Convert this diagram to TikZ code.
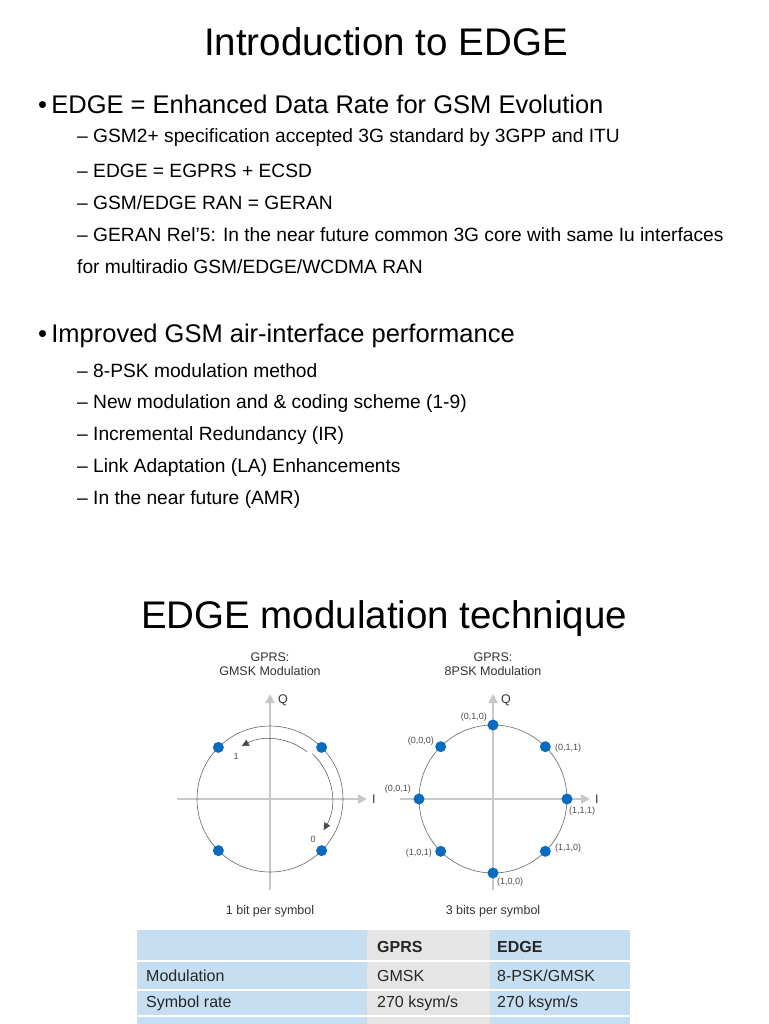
\documentclass[tikz,border=0pt]{standalone}
\usepackage{fontspec}
\setmainfont{Liberation Sans}
\usetikzlibrary{arrows.meta}
\definecolor{dotblue}{HTML}{0A6CC0}
\definecolor{tblue}{HTML}{C6DEF2}
\definecolor{tgrey}{HTML}{E5E5E5}
\definecolor{axgrey}{HTML}{C8C8C8}
\tikzset{
 title/.style={font=\fontsize{38.5}{44}\selectfont, anchor=center},
 lvlone/.style={font=\fontsize{25.5}{30}\selectfont, anchor=west, inner sep=0},
 lvltwo/.style={font=\fontsize{19.2}{22}\selectfont, anchor=west, inner sep=0},
 small/.style={font=\fontsize{12.5}{14}\selectfont, text=black!80, inner sep=0},
 tiny/.style={font=\fontsize{9}{10}\selectfont, text=black!70, inner sep=0},
 axis/.style={axgrey, line width=2.2pt, -{Triangle[length=9pt,width=9pt]}},
 circ/.style={black!60, line width=0.6pt},
 dot/.style={circle, fill=dotblue, minimum size=11pt, inner sep=0},
 cell/.style={font=\fontsize{16}{18}\selectfont, anchor=west, inner sep=0, text=black!85},
 arcarrow/.style={black!70, line width=0.5pt, -{Triangle[length=7pt,width=7pt]}},
}
\begin{document}
\begin{tikzpicture}[x=1pt,y=-1pt]
\useasboundingbox (0,0) rectangle (768,1024);
\fill[white] (0,0) rectangle (768,1024);
\node[title] (t1) at (386,42) {Introduction to EDGE};
\node[lvlone] (b1) at (38,104) {•\,EDGE = Enhanced Data Rate for GSM Evolution};
\node[lvltwo] (s1) at (77,138) {– GSM2+ specification accepted 3G standard by 3GPP and ITU};
\node[lvltwo] (s2) at (77,171) {– EDGE = EGPRS + ECSD};
\node[lvltwo] (s3) at (77,203) {– GSM/EDGE RAN = GERAN};
\node[lvltwo] (s4) at (77,235) {– GERAN Rel’5: In the near future common 3G core with same Iu interfaces};
\node[lvltwo] (s5) at (77,267) {for multiradio GSM/EDGE/WCDMA RAN};
\node[lvlone] (b2) at (38,336) {•\,Improved GSM air-interface performance};
\node[lvltwo] (s6) at (77,371) {– 8-PSK modulation method};
\node[lvltwo] (s7) at (77,404) {– New modulation and \& coding scheme (1-9)};
\node[lvltwo] (s8) at (77,436) {– Incremental Redundancy (IR)};
\node[lvltwo] (s9) at (77,468) {– Link Adaptation (LA) Enhancements};
\node[lvltwo] (s10) at (77,500) {– In the near future (AMR)};
\node[title] (t2) at (384,619) {EDGE modulation technique};
% left diagram
\node[small, align=center] (lh) at (270,664) {GPRS:\\GMSK Modulation};
\coordinate (lc) at (270,799);
\draw[axis] (177,799) -- (367,799) coordinate (lI);
\draw[axis] (270,890) -- (270,694) coordinate (lQ);
\node[small, anchor=west] (lIl) at (372,799) {I};
\node[small, anchor=west] (lQl) at (278,700) {Q};
\draw[circ] (lc) circle (73);
\draw[arcarrow] ([shift={(-52:60)}]lc) arc[start angle=-52, end angle=-118, radius=60];
\draw[arcarrow] ([shift={(-47:62)}]lc) arc[start angle=-47, end angle=30, radius=62];
\node[tiny] (l1) at (236,756) {1};
\node[tiny] (l0) at (313,839) {0};
\foreach \a/\n in {45/la,135/lb,225/lc2,315/ld} \node[dot] (\n) at ([shift={(-\a:73)}]lc) {};
\node[small] (lf) at (270,911) {1 bit per symbol};
% right diagram
\node[small, align=center] (rh) at (493,664) {GPRS:\\8PSK Modulation};
\coordinate (rc) at (493,799);
\draw[axis] (400,799) -- (590,799) coordinate (rI);
\draw[axis] (493,890) -- (493,694) coordinate (rQ);
\node[small, anchor=west] (rIl) at (595,799) {I};
\node[small, anchor=west] (rQl) at (501,700) {Q};
\draw[circ] (rc) circle (74);
\foreach \a/\n in {0/r0,45/r1,90/r2,135/r3,180/r4,225/r5,270/r6,315/r7} \node[dot] (\n) at ([shift={(-\a:74)}]rc) {};
\node[tiny, anchor=east] (p010) at (487,717) {(0,1,0)};
\node[tiny, anchor=east] (p000) at (434,741) {(0,0,0)};
\node[tiny, anchor=west] (p011) at (555,748) {(0,1,1)};
\node[tiny, anchor=east] (p001) at (411,789) {(0,0,1)};
\node[tiny, anchor=west] (p111) at (569,811) {(1,1,1)};
\node[tiny, anchor=west] (p110) at (555,848) {(1,1,0)};
\node[tiny, anchor=east] (p101) at (432,853) {(1,0,1)};
\node[tiny, anchor=west] (p100) at (497,882) {(1,0,0)};
\node[small] (rf) at (493,911) {3 bits per symbol};
% table
\fill[tblue] (137,930) rectangle (367,1024);
\fill[tgrey] (367,930) rectangle (490,1024);
\fill[tblue] (490,930) rectangle (630,1024);
\foreach \y in {961,990,1016} \draw[white, line width=1.2pt] (137,\y) -- (630,\y);
\node[cell, font=\fontsize{16}{18}\selectfont\bfseries] (hg) at (377,947) {GPRS};
\node[cell, font=\fontsize{16}{18}\selectfont\bfseries] (he) at (497,947) {EDGE};
\node[cell] (m1) at (146,976) {Modulation};
\node[cell] (m2) at (377,976) {GMSK};
\node[cell] (m3) at (497,976) {8-PSK/GMSK};
\node[cell] (r1) at (146,1003) {Symbol rate};
\node[cell] (r2) at (377,1003) {270 ksym/s};
\node[cell] (r3) at (497,1003) {270 ksym/s};
\end{tikzpicture}
\end{document}
